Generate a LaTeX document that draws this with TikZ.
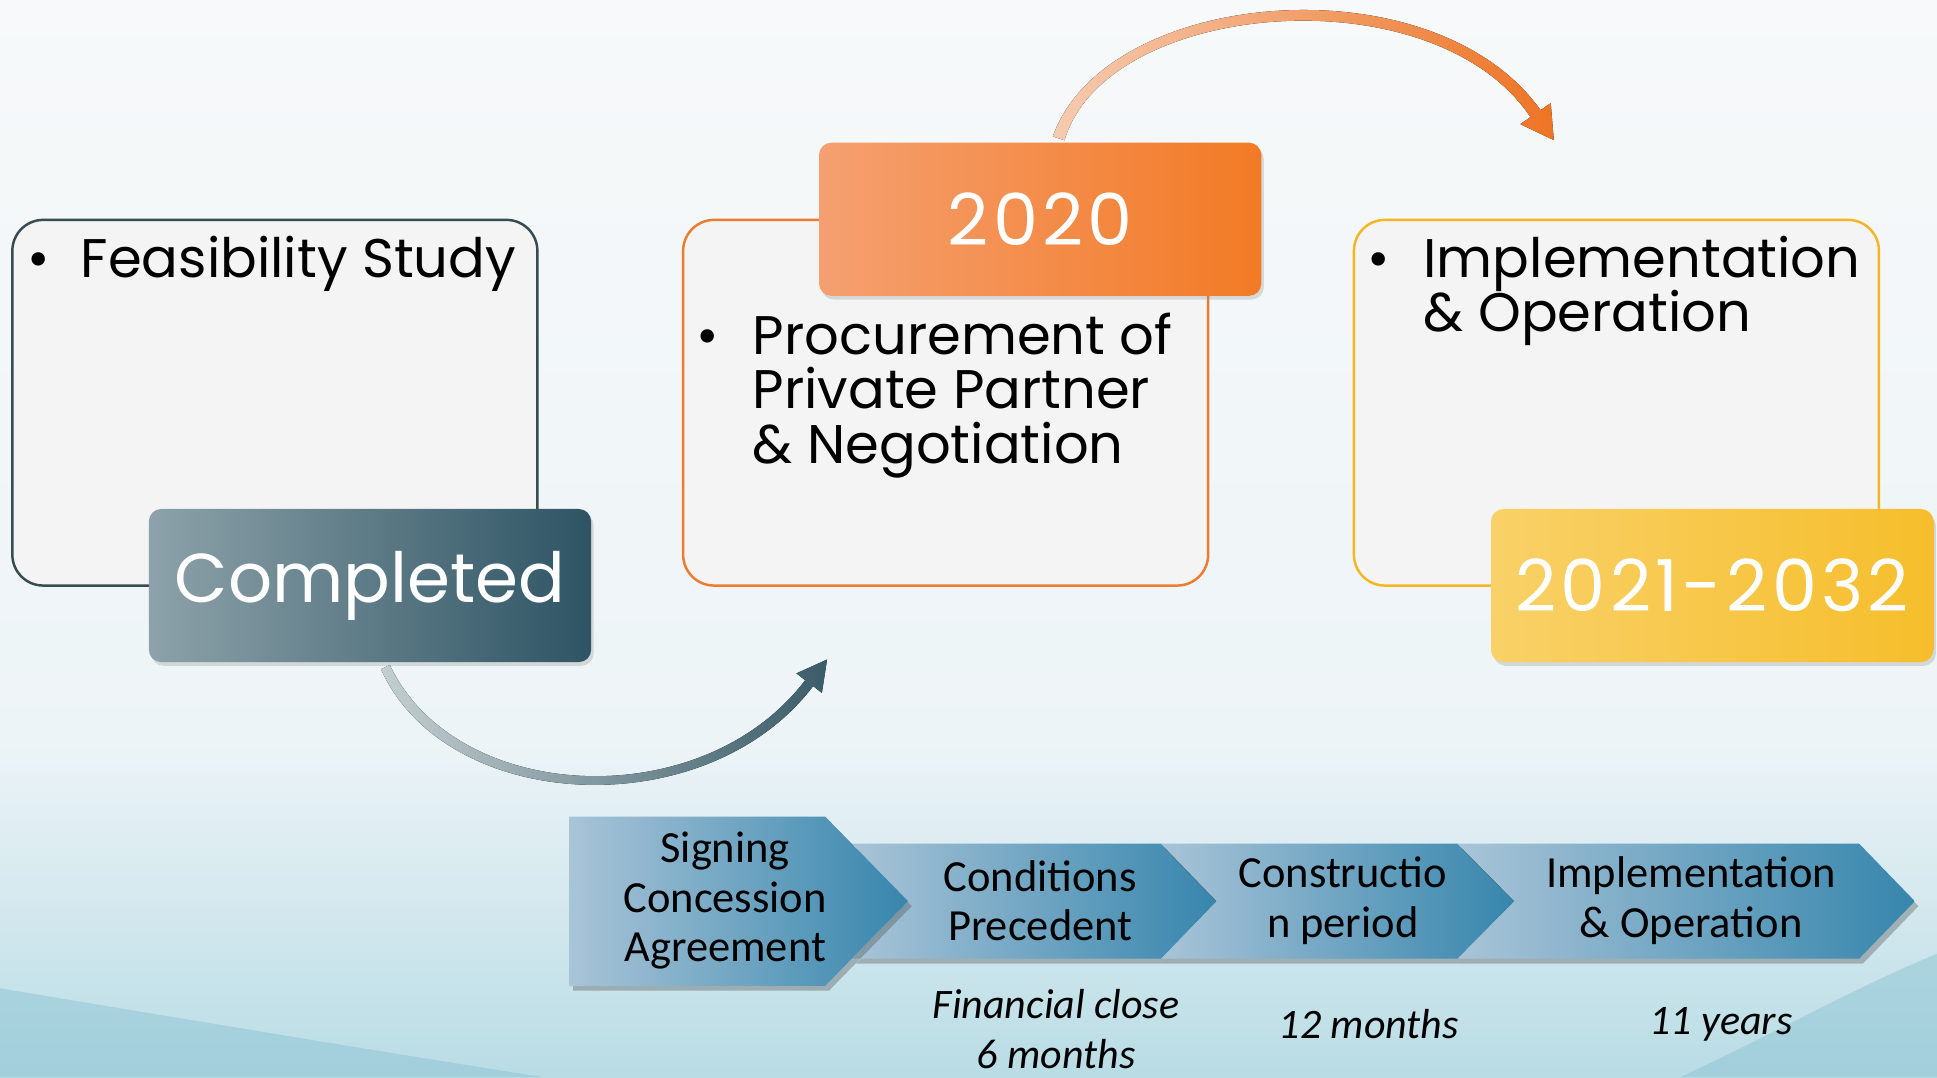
\documentclass[tikz,border=0pt]{standalone}
\usepackage{fontspec}
\setmainfont{Carlito}
\newfontfamily\pop{Poppins}
\newfontfamily\popwide{Poppins}[LetterSpace=6]
\usetikzlibrary{calc,shadows}
\definecolor{bgA}{HTML}{F7F9FA}
\definecolor{bgB}{HTML}{EDF4F7}
\definecolor{bgC}{HTML}{B9DCE5}
\definecolor{bgD}{HTML}{86C0D0}
\definecolor{boxfill}{HTML}{F5F4F4}
\definecolor{slateB}{HTML}{354C51}
\definecolor{orangeB}{HTML}{EC7C30}
\definecolor{goldB}{HTML}{F4B622}
\definecolor{chevL}{HTML}{A9C4D7}
\definecolor{chevR}{HTML}{3786AD}
\definecolor{doneL}{HTML}{8DA2A9}
\definecolor{doneR}{HTML}{2E5464}
\definecolor{oraL}{HTML}{F5A071}
\definecolor{oraM}{HTML}{F3884C}
\definecolor{oraR}{HTML}{F27A25}
\definecolor{yelL}{HTML}{F9D168}
\definecolor{yelM}{HTML}{F9C947}
\definecolor{yelR}{HTML}{F6BE2C}
\definecolor{garL}{HTML}{C3CFD2}
\definecolor{garR}{HTML}{3A5C68}
\definecolor{oarL}{HTML}{F6CBB0}
\definecolor{oarR}{HTML}{EE7424}
\begin{document}
\begin{tikzpicture}[x=0.5pt,y=-0.5pt,
  bigbox/.style={draw, line width=1pt, fill=boxfill, rounded corners=12.5pt,
    minimum width=212.5pt, minimum height=148pt, inner sep=0pt},
  tagbox/.style={rounded corners=5pt, minimum width=179pt, minimum height=62pt,
    inner sep=0pt, text=white},
  tagshadow/.style={drop shadow={shadow xshift=1pt, shadow yshift=-1.5pt, opacity=.25}},
  bul/.style={font=\pop\fontsize{22}{22}\selectfont, inner sep=0pt, anchor=base west},
  bulmark/.style={font=\pop\fontsize{22}{22}\selectfont, inner sep=0pt, anchor=base},
  chev/.style={left color=chevL, right color=chevR,
    drop shadow={shadow xshift=1.5pt, shadow yshift=-2pt, opacity=.35, fill=black!70}},
  chevtxt/.style={font=\fontsize{18}{20}\selectfont, align=center, inner sep=0pt},
  dur/.style={font=\itshape\fontsize{17}{20}\selectfont, align=center, inner sep=0pt}
]
\useasboundingbox (0,0) rectangle (1568,872);
% background
\fill[top color=bgA, bottom color=bgB] (0,0) rectangle (1568,601);
\fill[top color=bgB, bottom color=bgC] (0,600) rectangle (1568,872);
\fill[bgD, opacity=.45] (0,800) .. controls (150,825) and (300,850) .. (440,872) -- (0,872) -- cycle;
\fill[bgD, opacity=.45] (1360,872) .. controls (1440,835) and (1500,800) .. (1568,772) -- (1568,872) -- cycle;

% main boxes
\node[bigbox, draw=slateB] (feas) at (222.5,326) {};
\node[bigbox, draw=orangeB] (proc) at (765.5,326) {};
\node[bigbox, draw=goldB] (impl) at (1308.5,326) {};

% coordinates of the curved connectors
\coordinate (gs) at (312,540);
\coordinate (ge) at (655,553);
\coordinate (os) at (857,112);
\coordinate (oe) at (1243,92);

% grey curved arrow (Completed -> Procurement)
\fill[left color=garL, right color=garR]
  ($(gs)+(-3.6,1.7)$) .. controls ($(gs)+(49.4,119)$) and ($(ge)+(-83,116)$) .. ($(ge)+(3.2,2.4)$)
  -- ($(ge)+(10.3,7.9)$) -- ($(ge)+(14.5,-19.1)$) -- ($(ge)+(-10.3,-7.9)$) -- ($(ge)+(-3.2,-2.4)$)
  .. controls ($(ge)+(-87,108)$) and ($(gs)+(56.6,111)$) .. ($(gs)+(3.6,-1.7)$) -- cycle;

% orange curved arrow (2020 -> Implementation)
\fill[left color=oarL, right color=oarR]
  ($(os)+(-4.7,-1.6)$) .. controls ($(os)+(38,-122)$) and ($(oe)+(-83,-125)$) .. ($(oe)+(4.1,-2.8)$)
  -- ($(oe)+(12.3,-8.5)$) -- ($(oe)+(14.8,21.4)$) -- ($(oe)+(-12.3,8.5)$) -- ($(oe)+(-4.1,2.8)$)
  .. controls ($(oe)+(-83,-115)$) and ($(os)+(38,-112)$) .. ($(os)+(4.7,1.6)$) -- cycle;

% tag boxes
\node[tagbox, tagshadow, left color=doneL, right color=doneR,
  font=\pop\fontsize{28}{30}\selectfont] (done) at (299.5,474) {Completed};
\node[tagbox, tagshadow, left color=oraL, middle color=oraM, right color=oraR,
  font=\popwide\fontsize{29}{30}\selectfont] (y2020) at (842,177.5) {2020};
\node[tagbox, tagshadow, left color=yelL, middle color=yelM, right color=yelR,
  font=\popwide\fontsize{29}{30}\selectfont] (yrange) at (1386,474) {2021-2032};

% bullet texts
\node[bulmark] (b1) at (31,225) {•};
\node[bul] (t1) at (65,225) {Feasibility Study};
\node[bulmark] (b2) at (573,287) {•};
\node[bul] (t2a) at (609,287) {Procurement of};
\node[bul] (t2b) at (609,331) {Private Partner};
\node[bul] (t2c) at (609,375) {\& Negotiation};
\node[bulmark] (b3) at (1116,225) {•};
\node[bul] (t3a) at (1152,225) {Implementation};
\node[bul] (t3b) at (1152,268) {\& Operation};

% chevrons
\path[chev] (690,683) -- (940,683) -- (985,729.5) -- (940,776) -- (690,776) -- (735,729.5) -- cycle;
\path[chev] (940,683) -- (1180,683) -- (1226,729.5) -- (1180,776) -- (940,776) -- (985,729.5) -- cycle;
\path[chev] (1180,683) -- (1505,683) -- (1550,729.5) -- (1505,776) -- (1180,776) -- (1226,729.5) -- cycle;
\path[chev] (461,661) -- (668,661) -- (735,729.5) -- (668,798) -- (461,798) -- cycle;

\node[chevtxt] (c1) at (587,729) {Signing\\Concession\\Agreement};
\node[chevtxt] (c2) at (842,729) {Conditions\\Precedent};
\node[chevtxt] (c3) at (1087,729) {Constructio\\n period};
\node[chevtxt] (c4) at (1369,729) {Implementation\\\& Operation};

\node[dur] (d2) at (855,833) {Financial close\\6 months};
\node[dur] (d3) at (1108,829) {12 months};
\node[dur] (d4) at (1393,829) {11 years};
\end{tikzpicture}
\end{document}
